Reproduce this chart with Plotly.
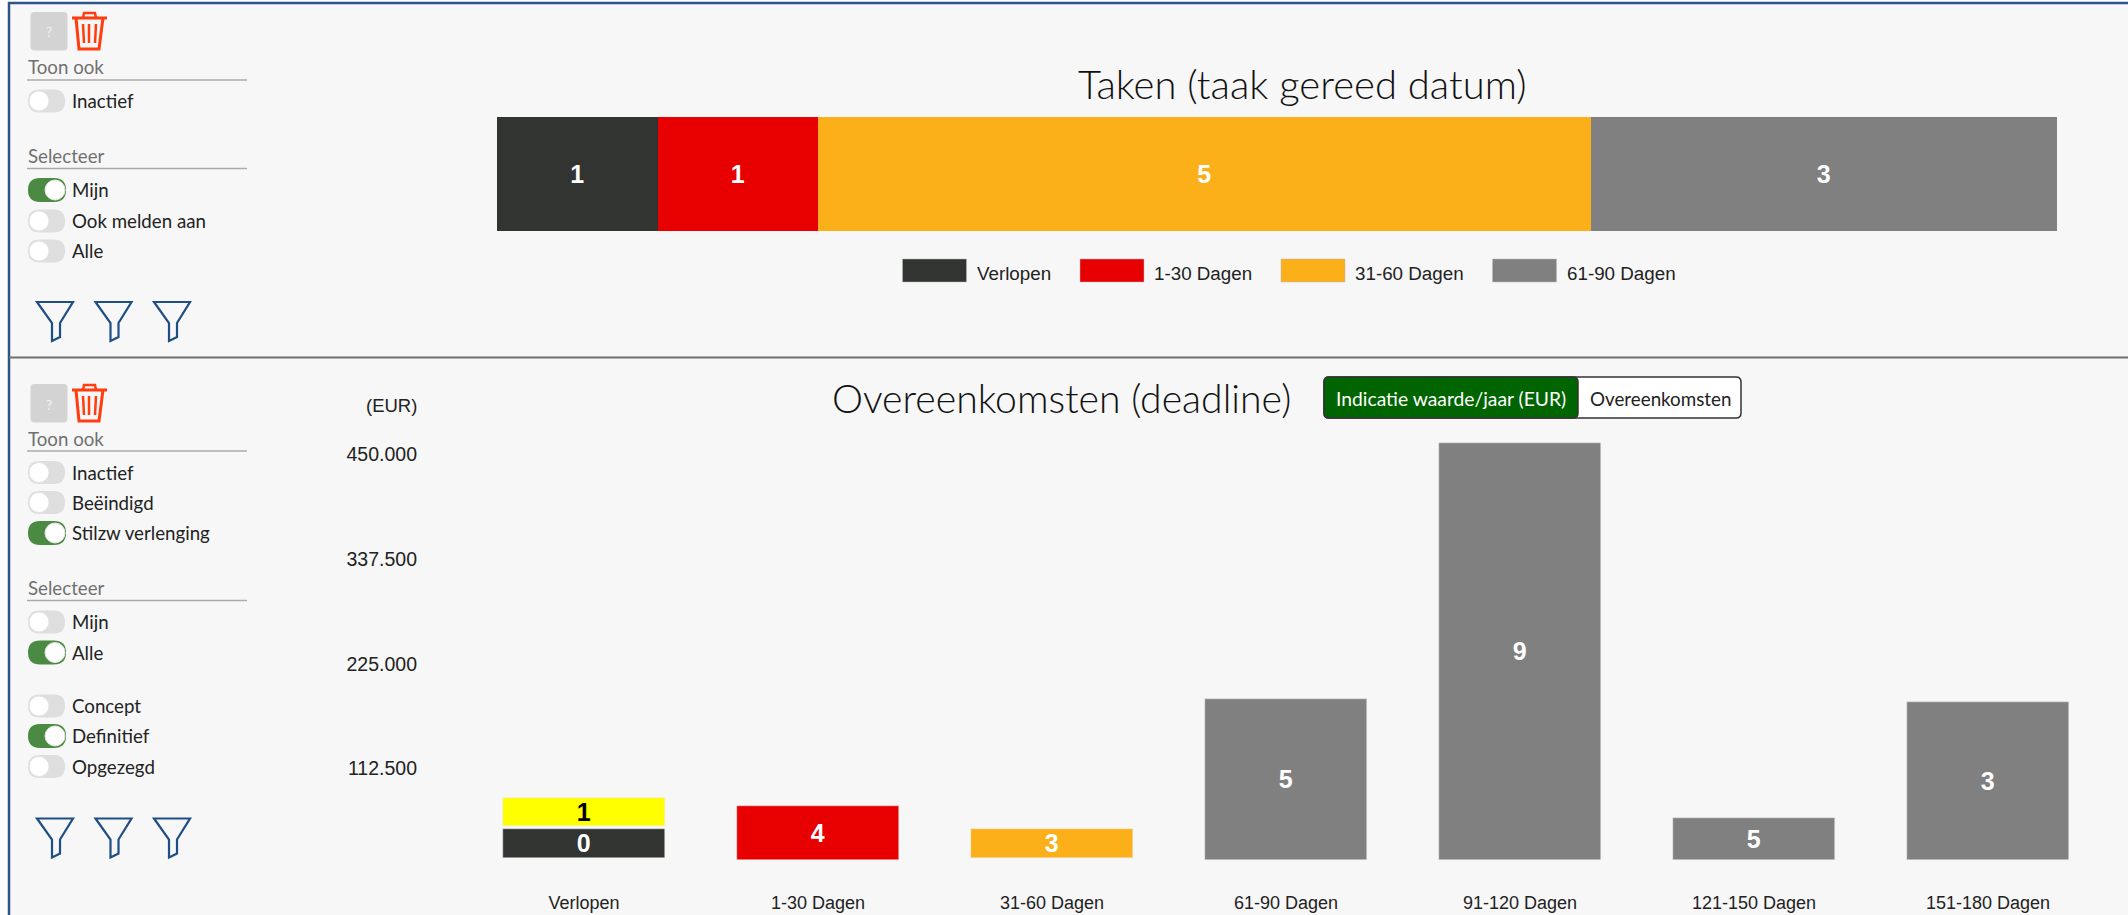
import plotly.graph_objects as go

W, H = 2128, 915

# --- Data ---
task_names = ["Verlopen", "1-30 Dagen", "31-60 Dagen", "61-90 Dagen"]
task_counts = [1, 1, 5, 3]
task_widths = [1.03, 1.03, 4.95, 2.99]
task_colors = ["#323431", "#e80000", "#fbb01a", "#808080"]

deal_cats = ["Verlopen", "1-30 Dagen", "31-60 Dagen", "61-90 Dagen",
             "91-120 Dagen", "121-150 Dagen", "151-180 Dagen"]
dark_vals = [30900]
dark_base = [2500]
dark_counts = [0]
yellow_vals = [30100]
yellow_base = [36500]
yellow_counts = [1]
red_vals = [58000]
red_counts = [4]
orange_vals = [30900]
orange_base = [2500]
orange_counts = [3]
grey_cats = deal_cats[3:]
grey_vals = [173000, 449000, 45000, 170000]
grey_counts = [5, 9, 5, 3]
y_ticks = [112500, 225000, 337500, 450000]

UI = "Lato"
NUM = "Liberation Sans"
BG = "#f7f7f7"


def X(v):
    return v / W


def Y(v):
    return 1 - v / H


shapes = []
annots = []


def rect(x0, y0, x1, y1, fill, line=None, lw=0, layer="below"):
    shapes.append(dict(type="rect", xref="paper", yref="paper", x0=X(x0), x1=X(x1),
                       y0=Y(y0), y1=Y(y1), fillcolor=fill, layer=layer,
                       line=dict(color=line or fill, width=lw)))


def hline(x0, x1, y, color, lw=2):
    shapes.append(dict(type="line", xref="paper", yref="paper", x0=X(x0), x1=X(x1),
                       y0=Y(y), y1=Y(y), line=dict(color=color, width=lw), layer="above"))


def path(points, color, lw=2, fill=None, close=False):
    d = "M" + " L".join(f"{X(a):.5f},{Y(b):.5f}" for a, b in points) + (" Z" if close else "")
    s = dict(type="path", xref="paper", yref="paper", path=d, layer="above",
             line=dict(color=color, width=lw))
    if fill:
        s["fillcolor"] = fill
    shapes.append(s)


def rrect(x0, y0, x1, y1, r, fill, line=None, lw=0):
    P = lambda a, b: f"{X(a):.5f},{Y(b):.5f}"
    d = (f"M{P(x0+r,y0)} L{P(x1-r,y0)} Q{P(x1,y0)} {P(x1,y0+r)} L{P(x1,y1-r)} "
         f"Q{P(x1,y1)} {P(x1-r,y1)} L{P(x0+r,y1)} Q{P(x0,y1)} {P(x0,y1-r)} "
         f"L{P(x0,y0+r)} Q{P(x0,y0)} {P(x0+r,y0)} Z")
    shapes.append(dict(type="path", xref="paper", yref="paper", path=d, layer="above",
                       fillcolor=fill, line=dict(color=line or fill, width=lw)))


def text(x, y, s, size=18, color="#222222", anchor="left", family=UI, weight=400):
    annots.append(dict(x=X(x), y=Y(y), xref="paper", yref="paper", text=s, showarrow=False,
                       xanchor=anchor, yanchor="middle", borderpad=0,
                       font=dict(family=family, size=size, color=color, weight=weight)))


def toggle(y, label, on=False):
    if on:
        rrect(28, y - 12, 66, y + 12, 12, "#4a8a42")
        cx = 55
    else:
        rrect(28, y - 11.5, 65, y + 11.5, 11.5, "#dedede")
        cx = 39
    shapes.append(dict(type="circle", xref="paper", yref="paper", x0=X(cx - 10), x1=X(cx + 10),
                       y0=Y(y - 10), y1=Y(y + 10), fillcolor="#ffffff", layer="above",
                       line=dict(color="#e4e4e4", width=1)))
    text(71, y, label, 18.7)


def header(y, label, line_y):
    text(26.5, y, label, 18.7, "#707070")
    hline(27, 247, line_y, "#ababab", 1.5)


def help_trash(dy):
    rrect(30.5, 12 + dy, 67.5, 50.5 + dy, 4, "#d3d3d3")
    text(49, 32 + dy, "?", 14, "#f2f2f2", "center")
    c = "#ff3d0f"
    path([(72, 18 + dy), (107, 18 + dy)], c, 3)
    path([(83, 18 + dy), (84, 13 + dy), (95, 13 + dy), (96, 18 + dy)], c, 2.5)
    path([(76, 18 + dy), (79, 49 + dy), (99, 49 + dy), (103, 18 + dy)], c, 3)
    for a, b in [(83, 84), (89, 89), (96, 95)]:
        path([(a, 24 + dy), (b, 43 + dy)], c, 2.5)


def funnels(top, h):
    c = "#1f4e85"
    for dx in (0, 58.5, 117):
        k = h / 39
        pts = [(37, 0), (73, 0), (60, 21), (60, 35), (52, 39), (52, 21)]
        path([(a + dx, top + b * k) for a, b in pts], c, 2.2, close=True)


# --- Page frame ---
rect(9, 3, W, H, BG)
hline(8, W, 3, "#2f5488", 2.5)
shapes.append(dict(type="line", xref="paper", yref="paper", x0=X(9), x1=X(9), y0=Y(2), y1=Y(H),
                   line=dict(color="#2f5488", width=2.5), layer="above"))
hline(9, W, 357.5, "#6f6f6f", 2)

# --- Top-left panel controls ---
help_trash(0)
header(67, "Toon ook", 80)
toggle(101, "Inactief")
header(156, "Selecteer", 168.5)
toggle(190, "Mijn", True)
toggle(221, "Ook melden aan")
toggle(251, "Alle")
funnels(302, 39)

# --- Bottom-left panel controls ---
help_trash(372)
header(438.5, "Toon ook", 451)
toggle(472.5, "Inactief")
toggle(502.5, "Beëindigd")
toggle(533, "Stilzw verlenging", True)
header(588, "Selecteer", 600.5)
toggle(622, "Mijn")
toggle(652.5, "Alle", True)
toggle(706, "Concept")
toggle(736, "Definitief", True)
toggle(766.5, "Opgezegd")
funnels(818.5, 39)

# --- Titles, legend, button ---
text(1301.5, 84, "Taken (taak gereed datum)", 40, "#111111", "center", weight=300)
text(1061.5, 397, "Overeenkomsten (deadline)", 39.2, "#111111", "center", weight=300)
text(418, 406, "(EUR)", 18.5, "#222222", "right", NUM)

rrect(1324, 377, 1741, 418, 5, "#ffffff", "#333333", 1.5)
rrect(1324, 377, 1578, 418, 5, "#006400", "#333333", 1.5)
text(1451, 398, "Indicatie waarde/jaar (EUR)", 19.3, "#ffffff", "center")
text(1660, 398, "Overeenkomsten", 18.8, "#222222", "center")

legend_swatch_x = [902.5, 1080, 1281, 1492.5]
for name, color, lx in zip(task_names, task_colors, legend_swatch_x):
    rect(lx, 259, lx + 64, 282, color, "#bbbbbb", 0.5, layer="above")
    text(lx + 73, 273, name, 18.8, "#222222", "left", NUM)

# --- Charts ---
fig = go.Figure()
labelfont = dict(family=NUM, size=25, color="#ffffff", weight="bold")


def add_deal(xs, vals, counts, color, base=None, fcolor="#ffffff"):
    f = dict(labelfont, color=fcolor)
    fig.add_trace(go.Bar(x=xs, y=vals, base=base, text=counts, width=0.69,
                         marker=dict(color=color, line=dict(color="#e8e8e8", width=0.5)),
                         textposition="inside", insidetextanchor="middle",
                         insidetextfont=f, textangle=0, constraintext="none",
                         cliponaxis=False, showlegend=False))


add_deal(grey_cats, grey_vals, grey_counts, "#808080")
add_deal(deal_cats[:1], dark_vals, dark_counts, "#323431", dark_base)
add_deal(deal_cats[:1], yellow_vals, yellow_counts, "#ffff00", yellow_base, "#000000")
add_deal(deal_cats[1:2], red_vals, red_counts, "#e80000")
add_deal(deal_cats[2:3], orange_vals, orange_counts, "#fbb01a", orange_base)

start = 0
for name, width, count, color in zip(task_names, task_widths, task_counts, task_colors):
    fig.add_trace(go.Bar(y=["Taken"], x=[width], base=[start], orientation="h", width=1,
                         text=[count], xaxis="x2", yaxis="y2",
                         marker=dict(color=color, line=dict(width=0)),
                         textposition="inside", insidetextanchor="middle",
                         insidetextfont=labelfont, textangle=0, constraintext="none",
                         showlegend=False, name=name))
    start += width

PER_PX = 1075.5
TOP_PX, BOT_PX = 430, 860

fig.update_layout(
    width=W, height=H, autosize=False,
    margin=dict(l=0, r=0, t=0, b=0),
    paper_bgcolor="#ffffff", plot_bgcolor="rgba(0,0,0,0)",
    barmode="overlay", bargap=0, separators=",.",
    shapes=shapes, annotations=annots,
    xaxis=dict(domain=[X(467), X(2105)], type="category", categoryorder="array",
               categoryarray=deal_cats, range=[-0.5, 6.5], showgrid=False, zeroline=False,
               showline=False, ticks="", ticklabelstandoff=30, automargin=False,
               tickfont=dict(family=NUM, size=18, color="#222222"), fixedrange=True),
    yaxis=dict(domain=[Y(BOT_PX), Y(TOP_PX)], range=[0, (BOT_PX - TOP_PX) * PER_PX],
               tickvals=y_ticks, tickformat=",d", showgrid=False, zeroline=False,
               showline=False, ticks="", ticklabelstandoff=49, ticklabelshift=13,
               automargin=False,
               tickfont=dict(family=NUM, size=19.5, color="#222222"), fixedrange=True),
    xaxis2=dict(domain=[X(496.7), X(2057)], anchor="y2", range=[0, sum(task_widths)],
                visible=False, fixedrange=True, automargin=False),
    yaxis2=dict(domain=[Y(231), Y(117)], anchor="x2", type="category", visible=False,
                fixedrange=True, automargin=False),
)

fig.write_html("out.html", config=dict(displayModeBar=False),
               post_script="document.body.style.margin='0';document.documentElement.style.overflow='hidden';")
